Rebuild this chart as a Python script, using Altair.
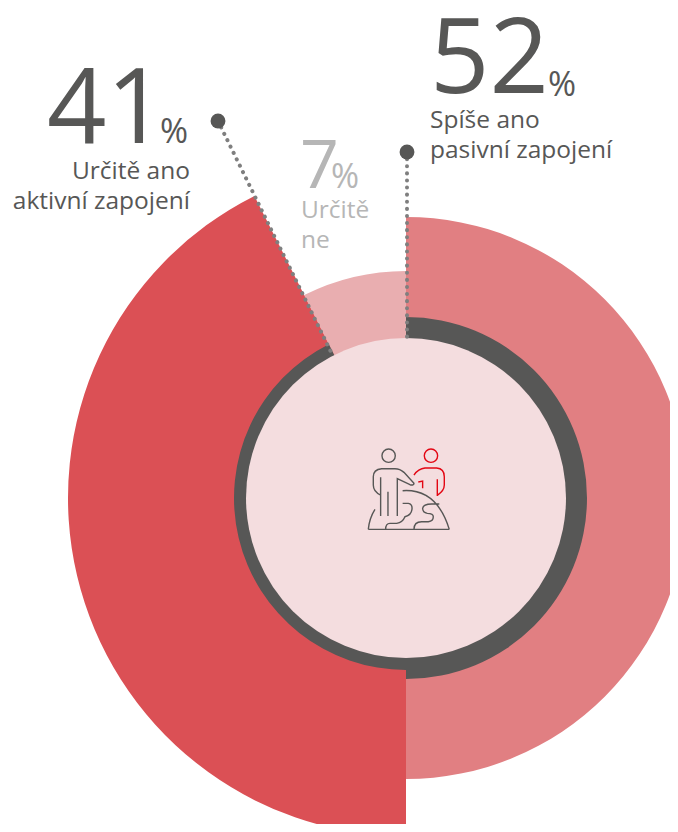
import re
import math
import altair as alt
import pandas as pd

# Drawn shares of the ring (the picture's wedges), and the printed labels
segments = ["Spíše ano pasivní zapojení", "Určitě ano aktivní zapojení", "Určitě ne"]
drawn_share = [50.0, 42.6, 7.4]
printed = ["52", "41", "7"]

W, H = 662, 816
CX, CY = 398, 490
FONT = "Open Sans"
DARK = "#575756"
GREY = "#b6b6b6"
DOT = "#7f7f7f"

start = [0.0, drawn_share[0], drawn_share[0] + drawn_share[1]]
end = [start[i] + drawn_share[i] for i in range(3)]
theta_scale = alt.Scale(domain=[0, 100], range=[0, 2 * math.pi])


def arc(s, e, inner, outer, color):
    df = pd.DataFrame({"s": [s], "e": [e]})
    return alt.Chart(df).mark_arc(
        innerRadius=inner, outerRadius=outer, color=color, clip=True, strokeWidth=0
    ).encode(
        theta=alt.Theta("s:Q", scale=theta_scale),
        theta2=alt.Theta2("e:Q"),
        x=alt.value(CX), y=alt.value(CY),
    )


def text(t, x, y, size, color, align="left", weight=400):
    return alt.Chart(pd.DataFrame({"t": [t]})).mark_text(
        font=FONT, fontSize=size, color=color, align=align, baseline="alphabetic",
        fontWeight=weight,
    ).encode(text="t:N", x=alt.value(x - 8), y=alt.value(y - 8))


def leader(x1, y1, x2, y2):
    df = pd.DataFrame({"a": [0]})
    line = alt.Chart(df).mark_rule(
        color=DOT, strokeWidth=4, strokeDash=[0.1, 7], strokeCap="round"
    ).encode(x=alt.value(x1 - 8), x2=alt.value(x2 - 8), y=alt.value(y1 - 8), y2=alt.value(y2 - 8))
    dot = alt.Chart(df).mark_point(
        filled=True, color=DARK, opacity=1, size=220, shape="circle"
    ).encode(x=alt.value(x1 - 8), y=alt.value(y1 - 8))
    return line + dot


def circle_path(cx, cy, r):
    k = 0.5523 * r
    return (f"M {cx - r} {cy} C {cx - r} {cy - k} {cx - k} {cy - r} {cx} {cy - r} "
            f"C {cx + k} {cy - r} {cx + r} {cy - k} {cx + r} {cy} "
            f"C {cx + r} {cy + k} {cx + k} {cy + r} {cx} {cy + r} "
            f"C {cx - k} {cy + r} {cx - r} {cy + k} {cx - r} {cy} ")


ICON_CENTER = (208, 200)
ICON_UNIT = 150.0


def unit_path(path):
    # rescale icon coordinates to the -1..1 box that a custom symbol uses
    tokens = re.findall(r"[A-Za-z]|-?\d+\.?\d*", path)
    out, axis = [], 0
    for tok in tokens:
        if tok.isalpha():
            out.append(tok)
            axis = 0
        else:
            out.append(f"{(float(tok) - ICON_CENTER[axis]) / ICON_UNIT:.4f}")
            axis = 1 - axis
    return " ".join(out)


grey_icon = circle_path(146, 107, 20) + (
    "M 122 225 Q 100 215 100 195 L 100 170 Q 100 148 125 146 L 165 146 "
    "Q 180 146 192 157 L 222 190 Q 222 197 210 194 L 172 176 L 172 288 "
    "M 122 172 L 122 288 M 144 215 L 144 288 "
    "M 188 212 Q 290 205 328 328 M 85 328 L 328 328 M 85 328 Q 88 295 105 268 "
    "M 188 250 L 205 250 Q 218 252 216 268 Q 214 285 195 290 Q 188 307 170 310 "
    "L 150 310 Q 137 310 137 328 "
    "M 222 328 Q 222 305 245 305 L 265 305 Q 280 303 280 290 Q 280 280 262 280 "
    "Q 248 278 248 265 Q 250 252 275 252 L 298 252"
)
red_icon = circle_path(273, 107, 20) + (
    "M 222 165 Q 235 146 255 144 L 290 144 Q 313 146 313 170 L 313 195 Q 313 212 292 226 "
    "M 292 178 L 292 228 M 235 186 L 248 183 L 248 205"
)


def icon(path, color):
    return alt.Chart(pd.DataFrame({"a": [0]})).mark_point(
        shape=unit_path(path), size=10000, filled=False, stroke=color,
        strokeWidth=1.4, opacity=1,
    ).encode(x=alt.value(409.3 - 8), y=alt.value(486.7 - 8))


LABEL = 24.5
layers = [
    arc(start[2], end[2], 159, 227, "#e9aeb0"),
    arc(start[0], end[0], 159, 281, "#e17f82"),
    arc(start[1], end[1], 159, 338, "#db5055"),
    arc(start[0], end[0], 159, 181, DARK),
    arc(start[1], end[1], 159, 172, DARK),
    arc(0, 100, 0, 160, "#f4dddf"),
    leader(218, 121, 331, 352),
    leader(407, 152, 407, 340),
    icon(grey_icon, DARK),
    icon(red_icon, "#e30613"),
    text(printed[0], 430, 93, 104, DARK),
    text("%", 548, 96, 34, DARK),
    text("Spíše ano", 430, 128, LABEL, DARK),
    text("pasivní zapojení", 430, 158, LABEL, DARK),
    text(printed[1], 47, 143, 104, DARK),
    text("%", 160, 143, 34, DARK),
    text("Určitě ano", 190, 179, LABEL, DARK, "right"),
    text("aktivní zapojení", 190, 209, LABEL, DARK, "right"),
    text(printed[2], 300, 188, 68, GREY),
    text("%", 331, 188, 34, GREY),
    text("Určitě", 301, 218, LABEL, GREY),
    text("ne", 301, 248, LABEL, GREY),
]

chart = alt.layer(*layers).properties(
    width=W, height=H, padding=0, background="white",
    autosize=alt.AutoSizeParams(type="none"),
).configure_view(stroke=None)

chart.save("out.html", embed_options={"renderer": "svg", "actions": False})
